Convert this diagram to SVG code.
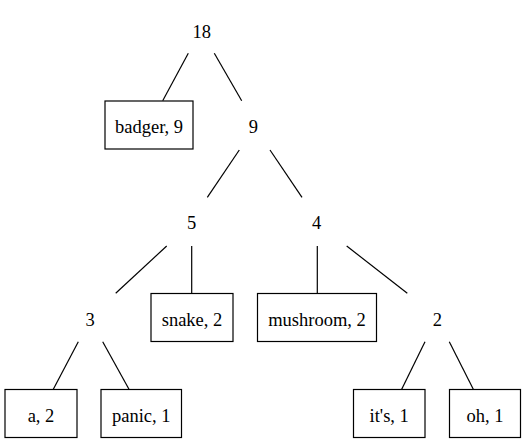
<svg xmlns="http://www.w3.org/2000/svg" width="527" height="443" viewBox="0 0 527 443">
<style>
text{font-family:"Liberation Serif","Times New Roman",serif;font-size:18.5px;fill:#000;text-anchor:middle}
.box{fill:#fff;stroke:#000;stroke-width:1.2}
#edges line{stroke:#000;stroke-width:1.2}
</style>
<rect x="0" y="0" width="527" height="443" fill="#fff"/>
<g id="edges">
<line x1="188.3" y1="53.3" x2="162.7" y2="100.7"/>
<line x1="214.3" y1="53.3" x2="241.7" y2="100.7"/>
<line x1="239.3" y1="150" x2="207.3" y2="197.3"/>
<line x1="270" y1="150" x2="302" y2="197.3"/>
<line x1="166.7" y1="246" x2="115.7" y2="293.3"/>
<line x1="191.7" y1="246" x2="191.7" y2="293.5"/>
<line x1="317.3" y1="246" x2="317.3" y2="293.5"/>
<line x1="346.7" y1="246" x2="407.3" y2="293.3"/>
<line x1="78.3" y1="341.7" x2="53.3" y2="389.3"/>
<line x1="102.7" y1="341.7" x2="129" y2="389.3"/>
<line x1="425" y1="341.7" x2="401.7" y2="389.3"/>
<line x1="449.3" y1="341.7" x2="473.3" y2="389.3"/>
</g>
<g id="n18"><text x="201.7" y="38.3">18</text></g>
<g id="n9"><text x="253.3" y="133">9</text></g>
<g id="badger"><rect class="box" x="105" y="101" width="88" height="48"/><text x="149" y="133">badger, 9</text></g>
<g id="n5"><text x="191.7" y="229.3">5</text></g>
<g id="n4"><text x="316.7" y="229.3">4</text></g>
<g id="n3"><text x="90" y="325.7">3</text></g>
<g id="snake"><rect class="box" x="151" y="293.5" width="82" height="48"/><text x="192" y="325.7">snake, 2</text></g>
<g id="mushroom"><rect class="box" x="257.5" y="293.5" width="119" height="48"/><text x="317" y="325.7">mushroom, 2</text></g>
<g id="n2"><text x="437.3" y="325.7">2</text></g>
<g id="a"><rect class="box" x="5" y="389.5" width="72" height="48"/><text x="41" y="421.5">a, 2</text></g>
<g id="panic"><rect class="box" x="101" y="389.5" width="80.5" height="48"/><text x="141.3" y="421.5">panic, 1</text></g>
<g id="its"><rect class="box" x="353.5" y="389.5" width="71.5" height="48"/><text x="389.2" y="421.5">it's, 1</text></g>
<g id="oh"><rect class="box" x="449.5" y="389.5" width="71" height="48"/><text x="485" y="421.5">oh, 1</text></g>
</svg>
